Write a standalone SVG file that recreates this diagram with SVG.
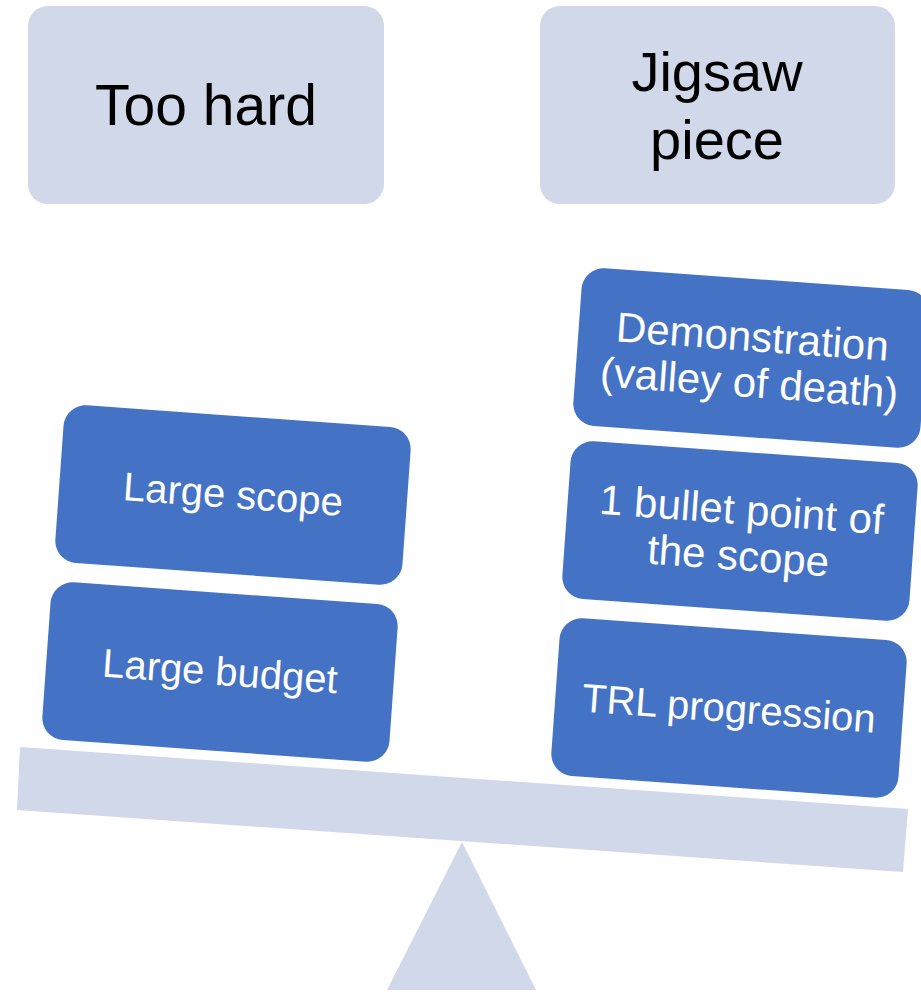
<svg xmlns="http://www.w3.org/2000/svg" width="921" height="992" viewBox="0 0 921 992">
<style>
.light{fill:#D1D8EA}
.blue{fill:#4472C4}
.t1{font-family:"Liberation Sans",Arial,sans-serif;font-size:56px;fill:#000;text-anchor:middle}
.t2{font-family:"Liberation Sans",Arial,sans-serif;font-size:40px;fill:#fff;text-anchor:middle}
.t3{font-family:"Liberation Sans",Arial,sans-serif;font-size:42px;fill:#fff;text-anchor:middle}
</style>
<rect width="921" height="992" fill="#fff"/>
<g id="scale">
<polygon class="light" points="20,747 908,809 903,872 17,810"/>
<polygon class="light" points="462,842 536,990 387,990"/>
</g>
<g id="too-hard">
<rect class="light" x="28" y="6" width="356" height="198" rx="20"/>
<text class="t1" x="206" y="125" style="font-size:57px">Too hard</text>
</g>
<g id="jigsaw-piece">
<rect class="light" x="540" y="6" width="355" height="198" rx="20"/>
<text class="t1" x="717" y="91">Jigsaw</text>
<text class="t1" x="717" y="159">piece</text>
</g>
<g id="large-scope" transform="translate(233,495) rotate(4.1)">
<rect class="blue" x="-174" y="-79" width="348" height="158" rx="22"/>
<text class="t2" x="0" y="13">Large scope</text>
</g>
<g id="large-budget" transform="translate(220,672) rotate(4.1)">
<rect class="blue" x="-174" y="-79" width="348" height="158" rx="22"/>
<text class="t2" x="0" y="13">Large budget</text>
</g>
<g id="demonstration" transform="translate(751,358) rotate(4.1)">
<rect class="blue" x="-174" y="-79" width="348" height="158" rx="22"/>
<text class="t3" x="0" y="-7">Demonstration</text>
<text class="t3" x="0" y="39">(valley of death)</text>
</g>
<g id="bullet-point" transform="translate(740,531) rotate(4.1)">
<rect class="blue" x="-174" y="-79" width="348" height="158" rx="22"/>
<text class="t3" x="0" y="-7">1 bullet point of</text>
<text class="t3" x="0" y="39">the scope</text>
</g>
<g id="trl-progression" transform="translate(729,708) rotate(4.1)">
<rect class="blue" x="-174" y="-79" width="348" height="158" rx="22"/>
<text class="t2" x="0" y="14">TRL progression</text>
</g>
<g id="connectors"></g>
</svg>
